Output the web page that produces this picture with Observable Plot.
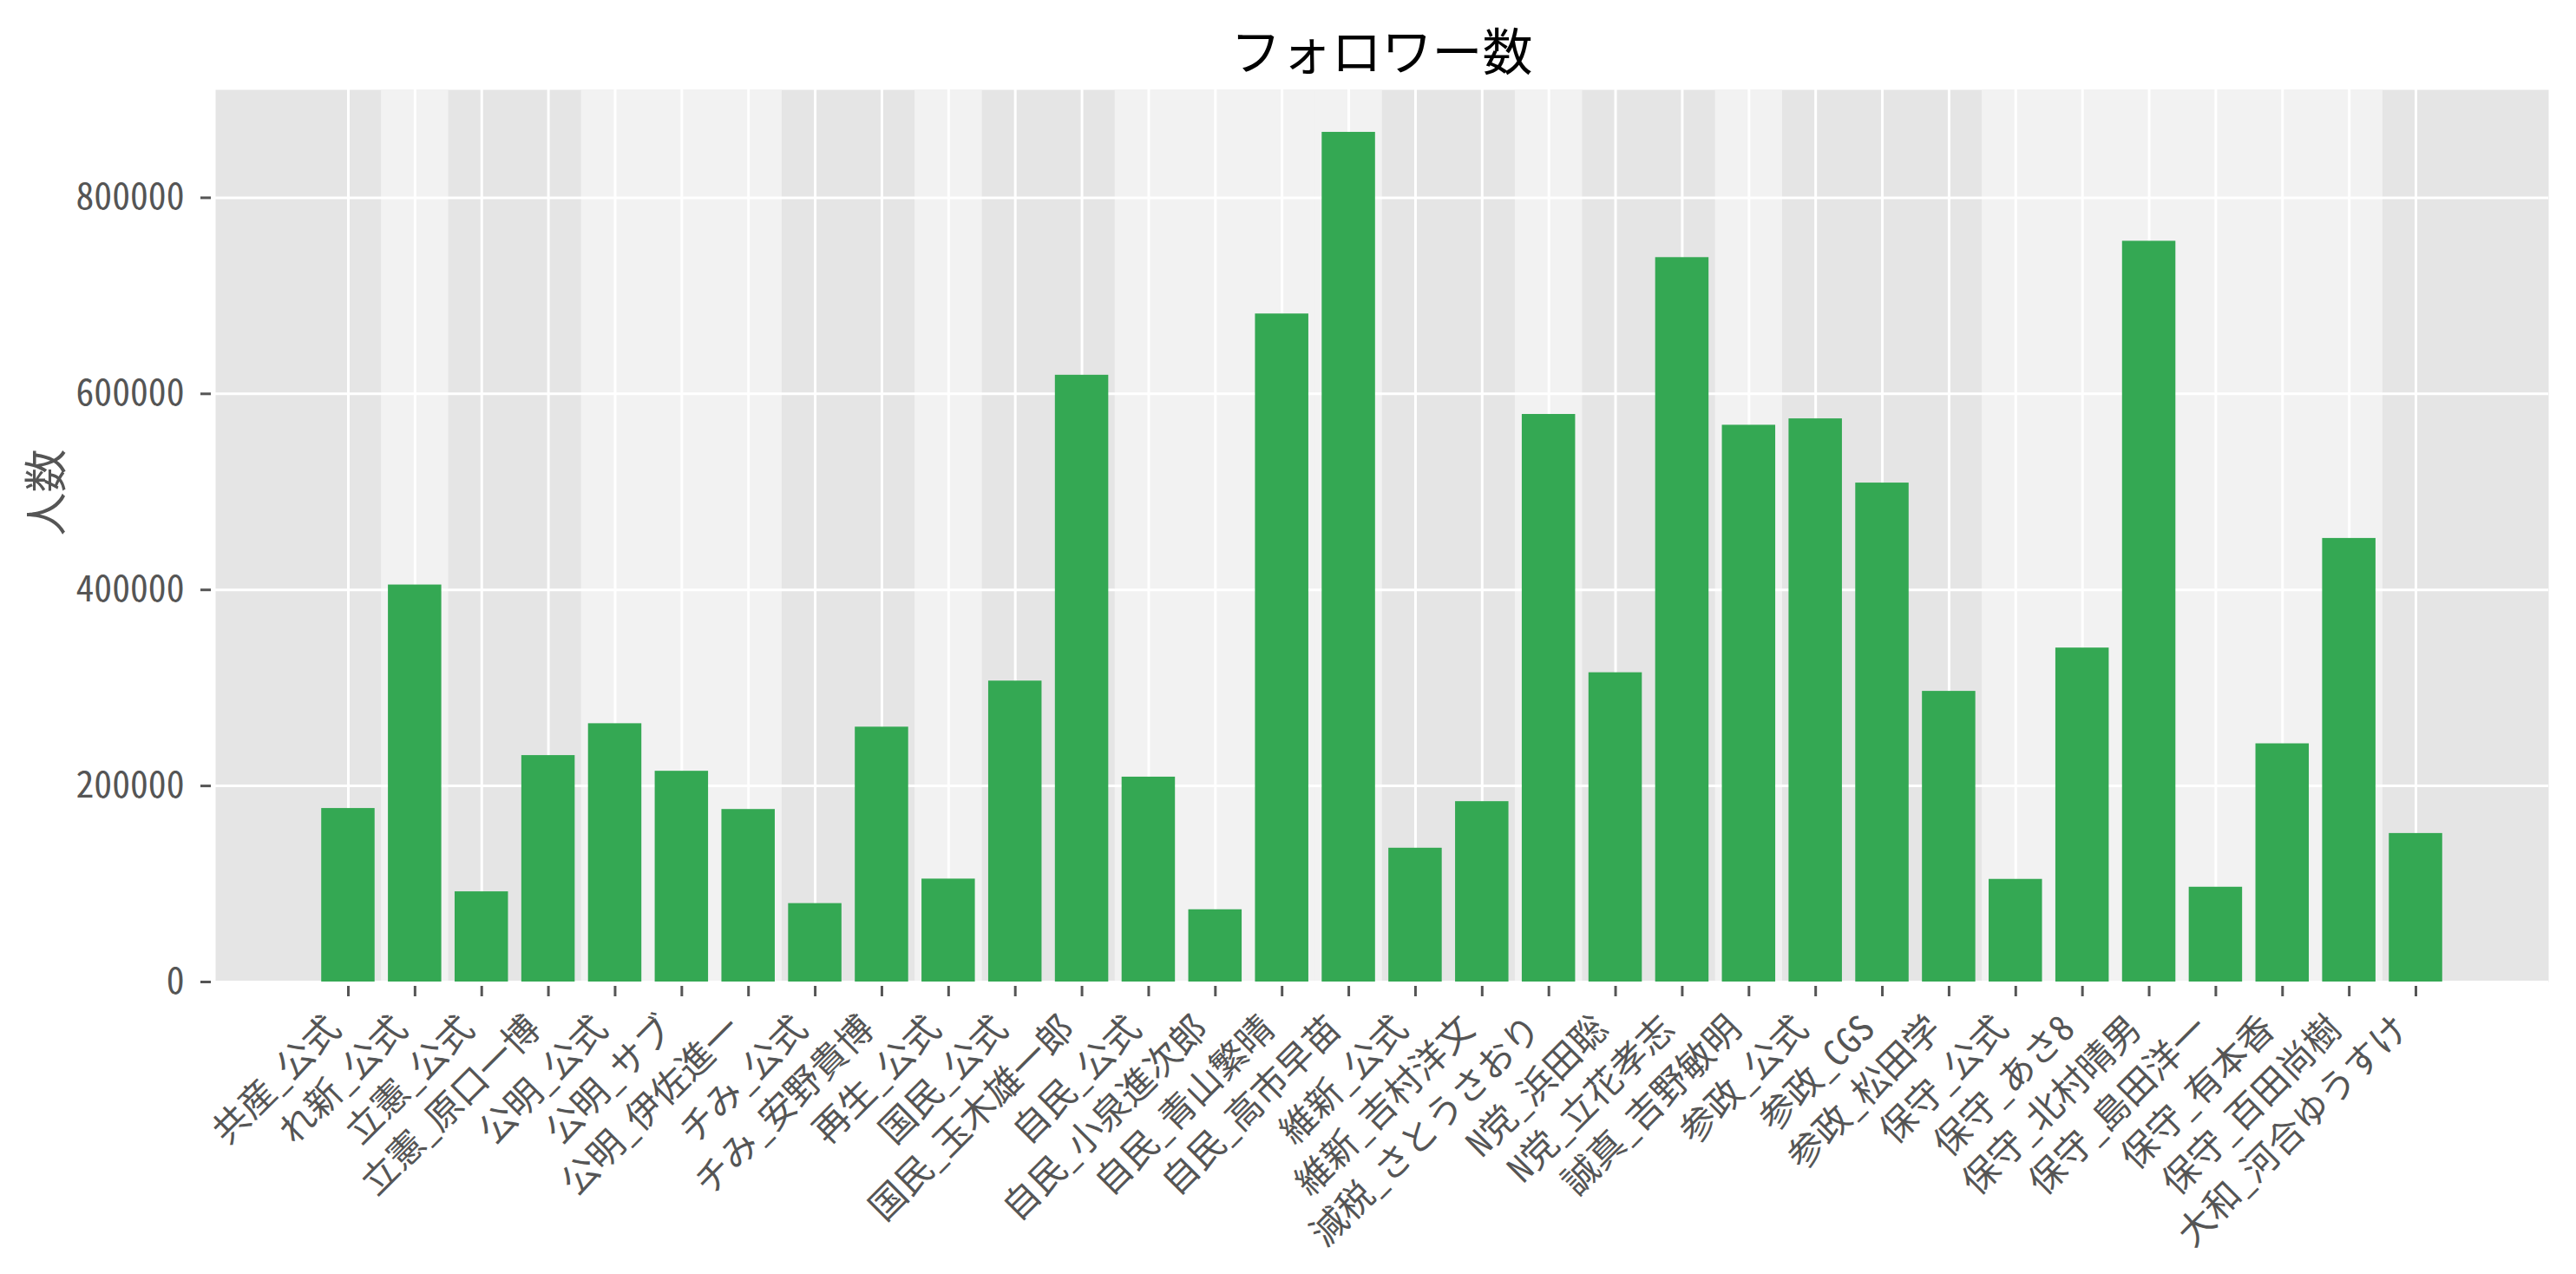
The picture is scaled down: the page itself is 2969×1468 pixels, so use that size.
<!DOCTYPE html>
<html>
<head>
<meta charset="utf-8">
<script src="https://cdn.jsdelivr.net/npm/d3@7"></script>
<script src="https://cdn.jsdelivr.net/npm/@observablehq/plot@0.6"></script>
<style>
  html, body { margin: 0; padding: 0; background: #fff; }
  #title {
    width: 2969px; height: 100px; box-sizing: border-box;
    padding-left: 248px; padding-right: 32px;
    text-align: center; line-height: 112px; overflow: hidden;
    font-family: 'Noto Sans CJK JP', sans-serif; font-size: 58px; color: #000;
  }
  #chart svg { display: block; }
  #chart svg text { font-feature-settings: "hwid"; }
</style>
</head>
<body>
<div id="title">フォロワー数</div>
<div id="chart"></div>
<script>
const accounts = [
  "共産_公式", "れ新_公式", "立憲_公式", "立憲_原口一博", "公明_公式", "公明_サブ",
  "公明_伊佐進一", "チみ_公式", "チみ_安野貴博", "再生_公式", "国民_公式", "国民_玉木雄一郎",
  "自民_公式", "自民_小泉進次郎", "自民_青山繁晴", "自民_高市早苗", "維新_公式", "維新_吉村洋文",
  "減税_さとうさおり", "N党_浜田聡", "N党_立花孝志", "誠真_吉野敏明", "参政_公式", "参政_CGS",
  "参政_松田学", "保守_公式", "保守_あさ8", "保守_北村晴男", "保守_島田洋一", "保守_有本香",
  "保守_百田尚樹", "大和_河合ゆうすけ"
];
const followers = [
  177000, 405000, 92000, 231000, 263500, 215000,
  176000, 80000, 260000, 105000, 307000, 619000,
  209000, 73700, 681500, 866800, 136500, 184000,
  579000, 315500, 739000, 568000, 574500, 509000,
  296500, 104700, 340700, 755700, 96700, 243000,
  452500, 151500
];
const yTicks = [0, 200000, 400000, 600000, 800000];

const parties = accounts.map(a => a.split("_")[0]);
const partyOrder = [...new Set(parties)];
const data = accounts.map((name, i) => ({
  name, value: followers[i], party: parties[i],
  stripe: partyOrder.indexOf(parties[i]) % 2
}));

const yTop = d3.max(followers) * 1.05;
const W = 2969, H = 1368, mL = 248, mR = 32, mT = 3, mB = 337;
const padInner = 0.2, padOuter = 1.59;
const step = (W - mL - mR) / (accounts.length - padInner + 2 * padOuter);
const ext = -step * padInner / 2 - 0.3;

const fontFam = "'Noto Sans CJK JP',sans-serif";

const chart = Plot.plot({
  width: W, height: H,
  marginLeft: mL, marginRight: mR, marginTop: mT, marginBottom: mB,
  style: { fontFamily: fontFam, background: "#fff", overflow: "visible" },
  x: { type: "band", domain: accounts, paddingInner: padInner, paddingOuter: padOuter, round: false, label: null },
  y: { domain: [0, yTop], label: null },
  marks: [
    Plot.frame({ fill: "#E5E5E5", stroke: null }),
    Plot.barY(data.filter(d => d.stripe === 1), {
      x: "name", y1: 0, y2: yTop, fill: "#F2F2F2", insetLeft: ext, insetRight: ext
    }),
    Plot.ruleY(yTicks, { stroke: "#fff", strokeWidth: 3 }),
    Plot.gridX({ stroke: "#fff", strokeOpacity: 1, strokeWidth: 3 }),
    Plot.barY(data, { x: "name", y: "value", fill: "#34A853" }),
    Plot.axisY({
      ticks: yTicks, tickFormat: d => String(d), tickSize: 12, tickPadding: 19, dx: -5,
      fontSize: 41.7, color: "#555", strokeWidth: 3, label: null
    }),
    Plot.axisX({ tickSize: 12, dy: 5, tickFormat: () => "", color: "#555", strokeWidth: 3, label: null }),
    Plot.axisX({
      tickSize: 0, tickRotate: -45, tickPadding: 47, dx: -16,
      fontSize: 41.7, color: "#555", label: null
    }),
    Plot.text(["人数"], {
      frameAnchor: "left", dx: -194, rotate: -90, fontSize: 50, fill: "#555"
    })
  ]
});
document.getElementById("chart").appendChild(chart);
</script>
</body>
</html>
